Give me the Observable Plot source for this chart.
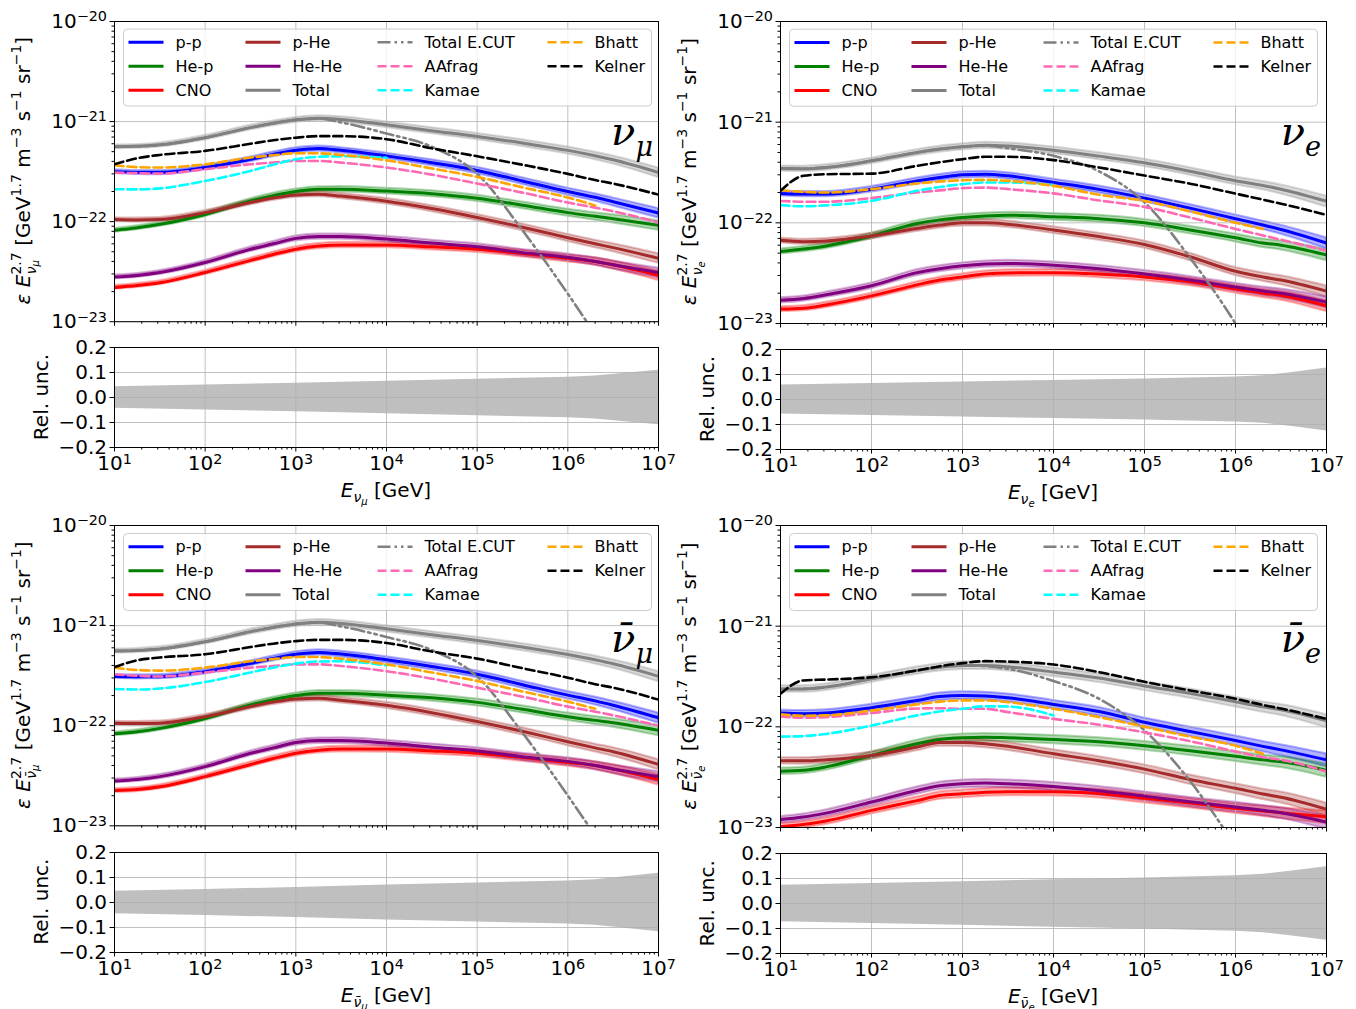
<!DOCTYPE html>
<html>
<head>
<meta charset="utf-8">
<script src="https://cdn.jsdelivr.net/npm/d3@7"></script>
<script src="https://cdn.jsdelivr.net/npm/@observablehq/plot@0.6"></script>
<style>
html,body{margin:0;padding:0;background:#fff;}
#fig{position:relative;width:1356px;height:1009px;overflow:hidden;background:#fff;font-family:"DejaVu Sans",sans-serif;}
#fig svg{position:absolute;}
</style>
</head>
<body>
<div id="fig"></div>
<script>
// ---------------- DATA ----------------
// energy grid, GeV
const energyGeV = [1e1, 1.78e1, 3.16e1, 1e2, 3.16e2, 5.62e2, 1e3, 1.78e3, 3.16e3, 1e4, 3.16e4, 1e5, 3.16e5, 1e6, 2e6, 3.16e6, 1e7];
// emissivity * E^2.7, in units of 1e-22 GeV^1.7 m^-3 s^-1 sr^-1 (null = not drawn)

// nu_mu
const numu_pp     = [3.16, 3.1, 3.09, 3.47, 4.2, 4.7, 5.17, 5.37, 5.17, 4.54, 3.88, 3.25, 2.55, 2.0, 1.75, 1.58, 1.22];
const numu_hep    = [0.82, 0.87, 0.94, 1.18, 1.61, 1.82, 2.0, 2.11, 2.11, 2.02, 1.9, 1.71, 1.46, 1.23, 1.13, 1.07, 0.92];
const numu_cno    = [0.22, 0.23, 0.245, 0.31, 0.41, 0.47, 0.53, 0.57, 0.585, 0.585, 0.56, 0.53, 0.48, 0.43, 0.4, 0.37, 0.29];
const numu_phe    = [1.05, 1.04, 1.05, 1.23, 1.55, 1.72, 1.85, 1.88, 1.8, 1.6, 1.35, 1.1, 0.88, 0.69, 0.6, 0.55, 0.43];
const numu_hehe   = [0.28, 0.29, 0.31, 0.39, 0.53, 0.6, 0.68, 0.71, 0.71, 0.67, 0.61, 0.56, 0.49, 0.44, 0.4, 0.37, 0.31];
const numu_total  = [5.6, 5.65, 5.85, 6.9, 8.7, 9.6, 10.4, 10.8, 10.5, 9.3, 8.1, 7.1, 6.1, 5.15, 4.55, 4.15, 3.1];
const numu_ecut   = [5.6, 5.65, 5.85, 6.9, 8.7, 9.6, 10.4, 10.7, 9.8, 7.6, 5.6, 3.0, 0.82, 0.19, 0.075, null, null];
const numu_aafrag = [3.09, 3.05, 3.02, 3.34, 3.74, 3.9, 4.04, 4.04, 3.89, 3.47, 2.95, 2.4, 1.95, 1.55, 1.38, 1.27, 0.98];
const numu_kamae  = [2.11, 2.1, 2.15, 2.55, 3.21, 3.7, 4.2, 4.45, 4.5, 4.35, null, null, null, null, null, null, null];
const numu_bhatt  = [3.66, 3.5, 3.47, 3.74, 4.37, 4.6, 4.82, 4.82, 4.64, 4.1, 3.4, 2.8, 2.2, 1.74, 1.45, null, null];
const numu_kelner = [3.75, 4.3, 4.64, 5.09, 6.0, 6.5, 6.9, 7.15, 7.15, 6.66, 5.4, 4.5, 3.7, 3.0, 2.6, 2.4, 1.86];

// nu_e
const nue_pp     = [1.96, 1.93, 1.93, 2.16, 2.61, 2.82, 3.0, 3.04, 2.93, 2.52, 2.15, 1.76, 1.4, 1.1, 0.95, 0.86, 0.63];
const nue_hep    = [0.52, 0.55, 0.59, 0.74, 0.985, 1.07, 1.13, 1.17, 1.19, 1.15, 1.1, 1.0, 0.85, 0.71, 0.63, 0.6, 0.48];
const nue_cno    = [0.139, 0.142, 0.153, 0.188, 0.242, 0.27, 0.29, 0.31, 0.318, 0.32, 0.31, 0.29, 0.26, 0.22, 0.2, 0.19, 0.15];
const nue_phe    = [0.67, 0.65, 0.66, 0.74, 0.88, 0.95, 1.0, 1.0, 0.97, 0.85, 0.73, 0.61, 0.46, 0.33, 0.29, 0.27, 0.21];
const nue_hehe   = [0.17, 0.177, 0.193, 0.237, 0.32, 0.35, 0.374, 0.39, 0.395, 0.38, 0.35, 0.31, 0.27, 0.23, 0.21, 0.2, 0.163];
const nue_total  = [3.46, 3.45, 3.55, 4.13, 5.0, 5.4, 5.69, 5.91, 5.8, 5.27, 4.6, 3.95, 3.25, 2.62, 2.35, 2.16, 1.64];
const nue_ecut   = [3.46, 3.45, 3.55, 4.13, 5.0, 5.4, 5.69, 5.85, 5.5, 4.63, 3.25, 1.6, 0.45, 0.1, 0.035, null, null];
const nue_aafrag = [1.65, 1.62, 1.62, 1.76, 2.0, 2.1, 2.21, 2.24, 2.16, 1.96, 1.67, 1.44, 1.13, 0.87, 0.75, 0.68, 0.53];
const nue_kamae  = [1.5, 1.46, 1.49, 1.65, 2.08, 2.27, 2.42, 2.52, 2.52, 2.38, null, null, null, null, null, null, null];
const nue_bhatt  = [2.11, 2.03, 2.0, 2.16, 2.46, 2.57, 2.65, 2.67, 2.61, 2.33, 1.9, 1.65, 1.3, 1.0, 0.87, null, null];
const nue_kelner = [2.08, 2.93, 3.04, 3.08, 3.68, 4.0, 4.29, 4.53, 4.53, 4.2, 3.55, 2.95, 2.45, 1.95, 1.7, 1.55, 1.2];

// anti nu_mu
const numubar_pp     = [3.11, 3.08, 3.09, 3.47, 4.2, 4.7, 5.17, 5.4, 5.2, 4.56, 3.9, 3.27, 2.57, 2.02, 1.77, 1.6, 1.2];
const numubar_hep    = [0.83, 0.87, 0.94, 1.18, 1.61, 1.82, 2.0, 2.11, 2.11, 2.02, 1.9, 1.71, 1.46, 1.23, 1.13, 1.07, 0.9];
const numubar_cno    = [0.225, 0.23, 0.245, 0.31, 0.41, 0.47, 0.53, 0.57, 0.585, 0.585, 0.56, 0.53, 0.48, 0.43, 0.4, 0.37, 0.29];
const numubar_phe    = [1.06, 1.05, 1.06, 1.23, 1.55, 1.72, 1.85, 1.88, 1.8, 1.6, 1.35, 1.1, 0.88, 0.69, 0.6, 0.55, 0.41];
const numubar_hehe   = [0.28, 0.29, 0.31, 0.39, 0.53, 0.6, 0.68, 0.71, 0.71, 0.67, 0.61, 0.56, 0.49, 0.44, 0.4, 0.37, 0.31];
const numubar_total  = [5.58, 5.65, 5.85, 6.9, 8.7, 9.6, 10.4, 10.8, 10.5, 9.3, 8.1, 7.1, 6.1, 5.15, 4.55, 4.15, 3.11];
const numubar_ecut   = [5.58, 5.65, 5.85, 6.9, 8.7, 9.6, 10.4, 10.7, 9.8, 7.7, 5.7, 3.1, 0.85, 0.2, 0.08, null, null];
const numubar_aafrag = [3.26, 3.15, 3.1, 3.4, 3.8, 3.95, 4.1, 4.1, 3.95, 3.5, 2.95, 2.4, 1.95, 1.55, 1.38, 1.27, 1.0];
const numubar_kamae  = [2.33, 2.3, 2.35, 2.73, 3.4, 3.8, 4.17, 4.38, 4.4, 4.0, null, null, null, null, null, null, null];
const numubar_bhatt  = [3.8, 3.6, 3.55, 3.8, 4.4, 4.62, 4.85, 4.85, 4.66, 4.1, 3.4, 2.8, 2.2, 1.74, 1.48, null, null];
const numubar_kelner = [3.86, 4.5, 4.8, 5.17, 6.1, 6.6, 7.0, 7.2, 7.2, 6.7, 5.5, 4.68, 3.75, 3.02, 2.6, 2.4, 1.82];

// anti nu_e
const nuebar_pp     = [1.37, 1.35, 1.37, 1.55, 1.83, 2.0, 2.05, 2.03, 1.94, 1.67, 1.42, 1.11, 0.9, 0.73, 0.64, 0.59, 0.47];
const nuebar_hep    = [0.363, 0.37, 0.4, 0.52, 0.68, 0.75, 0.78, 0.79, 0.78, 0.75, 0.71, 0.65, 0.58, 0.51, 0.47, 0.45, 0.37];
const nuebar_cno    = [0.102, 0.107, 0.116, 0.148, 0.185, 0.208, 0.216, 0.224, 0.227, 0.227, 0.218, 0.195, 0.175, 0.155, 0.146, 0.14, 0.128];
const nuebar_phe    = [0.46, 0.46, 0.47, 0.52, 0.63, 0.7, 0.7, 0.68, 0.64, 0.54, 0.46, 0.38, 0.3, 0.245, 0.215, 0.2, 0.152];
const nuebar_hehe   = [0.12, 0.127, 0.139, 0.179, 0.233, 0.26, 0.272, 0.276, 0.272, 0.255, 0.232, 0.205, 0.18, 0.16, 0.148, 0.14, 0.113];
const nuebar_total  = [2.38, 2.38, 2.48, 3.0, 3.63, 3.91, 4.07, 4.07, 3.95, 3.5, 3.05, 2.55, 2.15, 1.77, 1.58, 1.48, 1.15];
const nuebar_ecut   = [2.38, 2.38, 2.48, 3.0, 3.63, 3.91, 4.07, 4.0, 3.77, 2.85, 1.9, 0.92, 0.29, 0.065, null, null, null];
const nuebar_aafrag = [1.27, 1.23, 1.25, 1.37, 1.52, 1.53, 1.51, 1.51, 1.4, 1.2, 1.05, 0.88, 0.72, 0.57, 0.5, 0.47, 0.36];
const nuebar_kamae  = [0.8, 0.81, 0.85, 1.03, 1.3, 1.42, 1.51, 1.6, 1.59, 1.3, null, null, null, null, null, null, null];
const nuebar_bhatt  = [1.33, 1.29, 1.3, 1.45, 1.67, 1.78, 1.83, 1.83, 1.76, 1.51, 1.25, 1.0, 0.8, 0.65, 0.54, null, null];
const nuebar_kelner = [2.13, 2.89, 2.95, 3.11, 3.63, 4.0, 4.29, 4.49, 4.45, 4.16, 3.5, 2.8, 2.3, 1.9, 1.65, 1.52, 1.2];

// relative uncertainty (half width of the band)
const uncEnergyGeV = [1e1, 1e2, 1e3, 1e4, 1e5, 1e6, 2e6, 4e6, 1e7];
const numu_unc    = [0.043, 0.05, 0.057, 0.065, 0.073, 0.081, 0.086, 0.096, 0.109];
const nue_unc     = [0.058, 0.064, 0.07, 0.076, 0.082, 0.09, 0.095, 0.107, 0.126];
const numubar_unc = [0.045, 0.052, 0.06, 0.07, 0.078, 0.086, 0.091, 0.102, 0.117];
const nuebar_unc  = [0.073, 0.08, 0.087, 0.095, 0.102, 0.111, 0.117, 0.129, 0.147];

// ticks
const xTicks = [1e1, 1e2, 1e3, 1e4, 1e5, 1e6, 1e7];
const yTicks = [1e-23, 1e-22, 1e-21, 1e-20];
const relTicks = [-0.2, -0.1, 0.0, 0.1, 0.2];
const relTickLabels = ["−0.2", "−0.1", "0.0", "0.1", "0.2"];

const seriesNames = ["p-p", "He-p", "CNO", "p-He", "He-He", "Total", "Total E.CUT", "AAfrag", "Kamae", "Bhatt", "Kelner"];

// ---------------- STYLE ----------------
const SERIES = [
  {key: "pp",     color: "#0000ff", band: true},
  {key: "hep",    color: "#008000", band: true},
  {key: "cno",    color: "#ff0000", band: true},
  {key: "phe",    color: "#a52a2a", band: true},
  {key: "hehe",   color: "#800080", band: true},
  {key: "total",  color: "#808080", band: true},
  {key: "ecut",   color: "#808080", dash: "13,4,2.5,4,2.5,4"},
  {key: "aafrag", color: "#ff69b4", dash: "9,4"},
  {key: "kamae",  color: "#00ffff", dash: "9,4"},
  {key: "bhatt",  color: "#ffa500", dash: "9,4"},
  {key: "kelner", color: "#000000", dash: "9,4"}
];
SERIES.forEach((s, i) => s.label = seriesNames[i]);

const panels = [
  {x0: 114, x1: 658, mTop: 20.5, mBot: 320.7, rTop: 347, rBot: 447, nu: "ν", sub: "μ", bar: false,
   vals: {pp: numu_pp, hep: numu_hep, cno: numu_cno, phe: numu_phe, hehe: numu_hehe, total: numu_total, ecut: numu_ecut, aafrag: numu_aafrag, kamae: numu_kamae, bhatt: numu_bhatt, kelner: numu_kelner}, unc: numu_unc},
  {x0: 780, x1: 1326, mTop: 20.7, mBot: 322.7, rTop: 349, rBot: 449, nu: "ν", sub: "e", bar: false,
   vals: {pp: nue_pp, hep: nue_hep, cno: nue_cno, phe: nue_phe, hehe: nue_hehe, total: nue_total, ecut: nue_ecut, aafrag: nue_aafrag, kamae: nue_kamae, bhatt: nue_bhatt, kelner: nue_kelner}, unc: nue_unc},
  {x0: 114, x1: 658, mTop: 525, mBot: 825.3, rTop: 851.7, rBot: 951.7, nu: "ν\u0304", sub: "μ", bar: true,
   vals: {pp: numubar_pp, hep: numubar_hep, cno: numubar_cno, phe: numubar_phe, hehe: numubar_hehe, total: numubar_total, ecut: numubar_ecut, aafrag: numubar_aafrag, kamae: numubar_kamae, bhatt: numubar_bhatt, kelner: numubar_kelner}, unc: numubar_unc},
  {x0: 780, x1: 1326, mTop: 525, mBot: 827, rTop: 853.3, rBot: 953.3, nu: "ν\u0304", sub: "e", bar: true,
   vals: {pp: nuebar_pp, hep: nuebar_hep, cno: nuebar_cno, phe: nuebar_phe, hehe: nuebar_hehe, total: nuebar_total, ecut: nuebar_ecut, aafrag: nuebar_aafrag, kamae: nuebar_kamae, bhatt: nuebar_bhatt, kelner: nuebar_kelner}, unc: nuebar_unc}
];

const minorX = [];
for (let e = 1; e < 7; e++) for (let k = 2; k < 10; k++) minorX.push(k * Math.pow(10, e));
const minorY = [];
for (let e = -23; e < -20; e++) for (let k = 2; k < 10; k++) minorY.push(k * Math.pow(10, e));

const powFmt = d => "10^" + String(Math.round(Math.log10(d))).replace("-", "−");
const relFmt = d => relTickLabels[relTicks.findIndex(t => Math.abs(t - d) < 1e-9)];
const gridStyle = {stroke: "#b0b0b0", strokeOpacity: 1, strokeWidth: 0.8};
const plotStyle = {background: "transparent", fontFamily: "DejaVu Sans", fontSize: "20px", color: "black", overflow: "visible"};

function supify(svg) {
  d3.select(svg).selectAll("text").each(function () {
    const s = this.textContent;
    const i = s.indexOf("^");
    if (i < 0) return;
    this.textContent = "";
    d3.select(this).append("tspan").text(s.slice(0, i));
    d3.select(this).append("tspan").attr("dy", "-0.45em").attr("font-size", "0.72em").text(s.slice(i + 1));
  });
}

const fig = document.getElementById("fig");
const ML = 110, MR = 20, MT = 20, MB = 20;

panels.forEach(p => {
  const u = d3.scaleLog().domain(uncEnergyGeV).range(p.unc);
  const rowsOf = key => energyGeV.map((E, i) => ({E, v: p.vals[key][i] == null ? null : p.vals[key][i] * 1e-22})).filter(d => d.v != null);
  const marks = [];
  SERIES.filter(s => s.band).forEach(s => {
    marks.push(Plot.areaY(rowsOf(s.key), {x: "E", y1: d => d.v * (1 - u(d.E)), y2: d => d.v * (1 + u(d.E)),
      fill: s.color, fillOpacity: 0.3, stroke: s.color, strokeOpacity: 0.3, strokeWidth: 2, curve: "monotone-x", clip: true}));
  });
  marks.push(Plot.gridX({ticks: xTicks, ...gridStyle}));
  marks.push(Plot.gridY({ticks: yTicks, ...gridStyle}));
  SERIES.forEach(s => {
    marks.push(Plot.line(rowsOf(s.key), {x: "E", y: "v", stroke: s.color, strokeWidth: s.dash ? 2.6 : 3,
      strokeDasharray: s.dash, curve: "monotone-x", clip: true}));
  });
  marks.push(Plot.frame({stroke: "black", strokeWidth: 1}));
  marks.push(Plot.axisY({ticks: yTicks, tickFormat: powFmt, tickSize: 4.5, tickPadding: 3, label: null}));
  marks.push(Plot.axisY({ticks: minorY, tickFormat: () => "", tickSize: 2.5, label: null}));
  marks.push(Plot.axisX({ticks: xTicks, tickFormat: () => "", tickSize: 4.5, label: null}));
  marks.push(Plot.axisX({ticks: minorX, tickFormat: () => "", tickSize: 2.5, label: null}));

  const W = (p.x1 - p.x0) + ML + MR;
  const H = (p.mBot - p.mTop) + MT + MB;
  const main = Plot.plot({
    width: W, height: H, marginLeft: ML, marginRight: MR, marginTop: MT, marginBottom: MB,
    x: {type: "log", domain: [1e1, 1e7]},
    y: {type: "log", domain: [1e-23, 1e-20]},
    style: plotStyle,
    marks
  });
  main.style.left = (p.x0 - ML) + "px";
  main.style.top = (p.mTop - MT) + "px";
  supify(main);
  fig.appendChild(main);

  // relative uncertainty panel
  const relRows = uncEnergyGeV.map((E, i) => ({E, u: p.unc[i]}));
  const rMT = 15, rMB = 40;
  const rel = Plot.plot({
    width: W, height: (p.rBot - p.rTop) + rMT + rMB, marginLeft: ML, marginRight: MR, marginTop: rMT, marginBottom: rMB,
    x: {type: "log", domain: [1e1, 1e7]},
    y: {domain: [-0.2, 0.2]},
    style: plotStyle,
    marks: [
      Plot.areaY(relRows, {x: "E", y1: d => -d.u, y2: d => d.u, fill: "#bfbfbf", curve: "linear"}),
      Plot.gridX({ticks: xTicks, ...gridStyle}),
      Plot.gridY({ticks: relTicks, ...gridStyle}),
      Plot.frame({stroke: "black", strokeWidth: 1}),
      Plot.axisY({ticks: relTicks, tickFormat: relFmt, tickSize: 4.5, tickPadding: 3, label: null}),
      Plot.axisX({ticks: xTicks, tickFormat: powFmt, tickSize: 4.5, tickPadding: 4, label: null}),
      Plot.axisX({ticks: minorX, tickFormat: () => "", tickSize: 2.5, label: null})
    ]
  });
  rel.style.left = (p.x0 - ML) + "px";
  rel.style.top = (p.rTop - rMT) + "px";
  supify(rel);
  fig.appendChild(rel);
});

// ---------------- overlay: labels and legends ----------------
const ov = d3.select(fig).append("svg").attr("width", 1356).attr("height", 1009)
  .style("left", "0px").style("top", "0px").style("pointer-events", "none")
  .attr("font-family", "DejaVu Sans");

function spans(t, parts) {
  parts.forEach(([txt, o]) => {
    const s = t.append("tspan").text(txt);
    Object.entries(o || {}).forEach(([k, v]) => s.attr(k, v));
  });
}

panels.forEach(p => {
  const it = {"font-style": "italic"};
  // main y label
  const yl = ov.append("text").attr("transform", `translate(${p.x0 - 84},${(p.mTop + p.mBot) / 2}) rotate(-90)`)
    .attr("text-anchor", "middle").attr("font-size", 20).style("white-space", "pre");
  spans(yl, [
    ["ε E", it],
    ["2.7", {"font-size": 14, dy: -9}],
    [p.nu, {"font-size": 14, "font-style": "italic", dx: -22, dy: 15}],
    [p.sub, {"font-size": 10, "font-style": "italic", dy: 3}],
    [" [GeV", {dx: 8, dy: -9}],
    ["1.7", {"font-size": 14, dy: -9}],
    [" m", {dy: 9}],
    ["−3", {"font-size": 14, dy: -9}],
    [" s", {dy: 9}],
    ["−1", {"font-size": 14, dy: -9}],
    [" sr", {dy: 9}],
    ["−1", {"font-size": 14, dy: -9}],
    ["]", {dy: 9}]
  ]);
  // rel unc label
  ov.append("text").attr("transform", `translate(${p.x0 - 66},${(p.rTop + p.rBot) / 2}) rotate(-90)`)
    .attr("text-anchor", "middle").attr("font-size", 20).text("Rel. unc.");
  // x label
  const xl = ov.append("text").attr("x", (p.x0 + p.x1) / 2).attr("y", p.rBot + 50)
    .attr("text-anchor", "middle").attr("font-size", 20).style("white-space", "pre");
  spans(xl, [
    ["E", it],
    [p.nu, {"font-size": 14, "font-style": "italic", dy: 5}],
    [p.sub, {"font-size": 10, "font-style": "italic", dy: 3}],
    [" [GeV]", {dy: -8}]
  ]);
  // flavour label
  const fl = ov.append("text").attr("x", p.x1 - 5).attr("y", p.mTop + (p.bar ? 127 : 124))
    .attr("text-anchor", "end").attr("font-family", "DejaVu Serif").attr("font-style", "italic");
  spans(fl, [[p.nu, {"font-size": 40}], [p.sub, {"font-size": 27, dy: 11}]]);

  // legend
  const g = ov.append("g").attr("transform", `translate(${p.x0 + 9.5},${p.mTop + 8.5})`);
  g.append("rect").attr("width", 528).attr("height", 77).attr("rx", 4)
    .attr("fill", "white").attr("fill-opacity", 0.8).attr("stroke", "#cccccc").attr("stroke-width", 1);
  const colX = [5, 122, 254, 424];
  SERIES.forEach((s, i) => {
    const cx = colX[Math.floor(i / 3)], cy = 13.3 + 24 * (i % 3);
    g.append("line").attr("x1", cx).attr("x2", cx + 35).attr("y1", cy).attr("y2", cy)
      .attr("stroke", s.color).attr("stroke-width", s.dash ? 2.6 : 3)
      .attr("stroke-dasharray", s.dash || null);
    g.append("text").attr("x", cx + 47).attr("y", cy).attr("dominant-baseline", "central")
      .attr("font-size", 16).text(s.label);
  });
});
</script>
</body>
</html>
